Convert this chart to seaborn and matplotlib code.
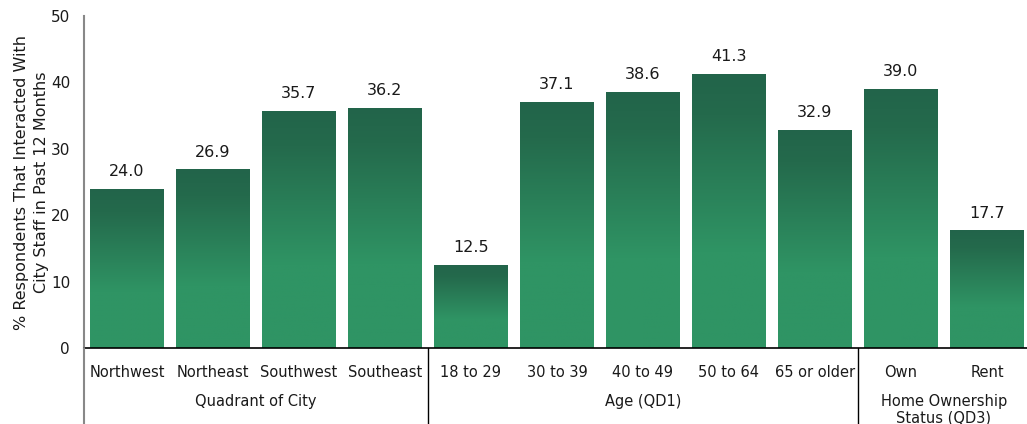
import numpy as np
import pandas as pd
import matplotlib
matplotlib.use("Agg")
import matplotlib.pyplot as plt
import seaborn as sns
from matplotlib.colors import LinearSegmentedColormap

categories = ["Northwest", "Northeast", "Southwest", "Southeast",
              "18 to 29", "30 to 39", "40 to 49", "50 to 64", "65 or older",
              "Own", "Rent"]
values = [24.0, 26.9, 35.7, 36.2, 12.5, 37.1, 38.6, 41.3, 32.9, 39.0, 17.7]
groups = ["Quadrant of City", "Age (QD1)", "Home Ownership\nStatus (QD3)"]
group_sizes = [4, 5, 2]
y_ticks = [0, 10, 20, 30, 40, 50]

df = pd.DataFrame({"category": categories, "value": values})

sns.set_theme(style="white")
plt.rcParams["font.family"] = ["DejaVu Sans"]

fig = plt.figure(figsize=(10.27, 4.24), dpi=100)
ax = fig.add_axes([84 / 1027, 1 - 348 / 424, 946 / 1027, (348 - 16) / 424])

sns.barplot(data=df, x="category", y="value", order=categories,
            color="#2f9464", width=0.85, ax=ax, saturation=1)

# vertical gradient fill for each bar: dark green at the top, lighter below
grad = LinearSegmentedColormap.from_list(
    "bar_grad", [(0.0, "#2f9464"), (0.35, "#2f9464"), (0.85, "#246a4c"), (1.0, "#22644a")])
ramp = np.linspace(0, 1, 256).reshape(-1, 1)
for patch in list(ax.patches):
    x0, y0 = patch.get_x(), patch.get_y()
    w, h = patch.get_width(), patch.get_height()
    patch.set_facecolor("none")
    patch.set_edgecolor("none")
    im = ax.imshow(ramp, cmap=grad, origin="lower", aspect="auto",
                   extent=[x0, x0 + w, y0, y0 + h], zorder=2)
    im.set_clip_path(patch)
    ax.annotate(f"{h:.1f}", (x0 + w / 2, y0 + h), xytext=(0, 7),
                textcoords="offset points", ha="center", va="bottom",
                fontsize=11.5, color="#1a1a1a")

ax.set_xlim(-0.5, len(categories) - 0.5)
ax.set_ylim(0, 50)
ax.set_yticks(y_ticks)
ax.set_yticklabels([str(t) for t in y_ticks], fontsize=11, color="#1a1a1a")
ax.tick_params(axis="y", length=0, pad=10)
ax.tick_params(axis="x", length=0, pad=12, labelsize=10.5, labelcolor="#1a1a1a")
ax.set_xlabel("")
ax.set_ylabel("% Respondents That Interacted With\nCity Staff in Past 12 Months",
              fontsize=11.5, color="#1a1a1a", linespacing=1.4)
ax.yaxis.set_label_coords(-0.037, 0.5)

for side in ["top", "right"]:
    ax.spines[side].set_visible(False)
ax.spines["left"].set_color("#888888")
ax.spines["left"].set_linewidth(1.5)
ax.spines["bottom"].set_color("black")
ax.spines["bottom"].set_linewidth(1.2)

# gray axis line continues down past the baseline
ax.plot([-0.5, -0.5], [0, -30], color="#888888", lw=1.5, clip_on=False, zorder=3)

# group separators and group titles beneath the category labels
start = 0
for i, (name, n) in enumerate(zip(groups, group_sizes)):
    end = start + n
    if i > 0:
        ax.plot([start - 0.5, start - 0.5], [0, -30], color="black", lw=1.0,
                clip_on=False)
    center = (start + end - 1) / 2
    ax.text(center, -6.9, name, ha="center", va="top", fontsize=10.5,
            color="#1a1a1a", linespacing=1.1, clip_on=False)
    start = end

fig.savefig("out.png", dpi=100)
